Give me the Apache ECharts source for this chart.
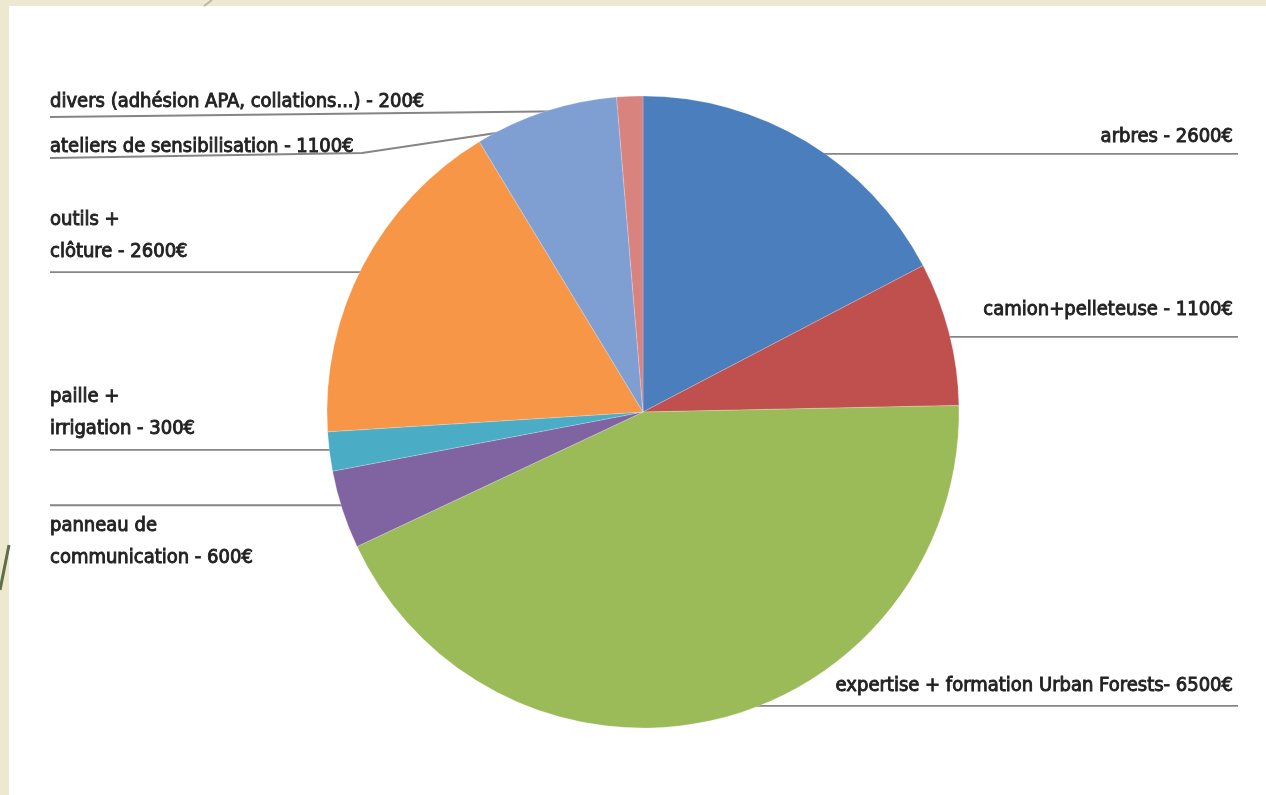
<!DOCTYPE html>
<html>
<head>
<meta charset="utf-8">
<script src="https://cdn.jsdelivr.net/npm/echarts@6/dist/echarts.min.js"></script>
<style>
html,body{margin:0;padding:0;background:#ede9d0;}
#chart{width:1266px;height:795px;}
</style>
</head>
<body>
<div id="chart"></div>
<script>
// ---- data ----
const categories = ['arbres', 'camion+pelleteuse', 'expertise + formation Urban Forests', 'panneau de\ncommunication', 'paille +\nirrigation', 'outils +\nclôture', 'ateliers de sensibilisation', 'divers (adhésion APA, collations...)'];
const separators = [' - ', ' - ', '- ', ' - ', ' - ', ' - ', ' - ', ' - '];
const values = [2600, 1100, 6500, 600, 300, 2600, 1100, 200];
const colors = ['#4a7ebd', '#c0504d', '#9bbb59', '#8064a2', '#4bacc6', '#f79646', '#7f9fd3', '#d9837f'];

// ---- layout (label placement relative to the leader line) ----
const CX = 643, CY = 412, R = 316;
const LH = 32;
// offset: distance from the leader line to the centre of the nearest text line
const placement = [
  {side: 'right', offset: 17},
  {side: 'right', offset: 27},
  {side: 'right', offset: 20},
  {side: 'left', offset: 21, below: true},
  {side: 'left', offset: 21},
  {side: 'left', offset: 20},
  {side: 'left', offset: 11, bend: [362, 153], lineY: 158},
  {side: 'left', offset: 15, lineY: 117}
];

const total = values.reduce((a, b) => a + b, 0);
function anchor(i) {
  let before = 0;
  for (let k = 0; k < i; k++) before += values[k];
  const mid = (before + values[i] / 2) / total * 2 * Math.PI;
  const r = R * 0.955;
  return [CX + r * Math.sin(mid), CY - r * Math.cos(mid)];
}

const FONT = "'Liberation Sans Narrow', 'DejaVu Sans Condensed', sans-serif";

const chart = echarts.init(document.getElementById('chart'));
chart.setOption({
  backgroundColor: '#ede9d0',
  animation: false,
  graphic: [
    {type: 'rect', z: -100, silent: true, shape: {x: 9, y: 6, width: 1257, height: 789}, style: {fill: '#ffffff'}},
    {type: 'line', z: -99, silent: true, shape: {x1: 9, y1: 545, x2: 0, y2: 590}, style: {stroke: '#5d7048', lineWidth: 3}},
    {type: 'line', z: -99, silent: true, shape: {x1: 212, y1: 0, x2: 204, y2: 6}, style: {stroke: '#bdb9a0', lineWidth: 2}}
  ],
  series: [{
    type: 'pie',
    center: [CX, CY],
    radius: R,
    startAngle: 90,
    clockwise: true,
    avoidLabelOverlap: false,
    data: categories.map((c, i) => ({name: c, value: values[i], itemStyle: {color: colors[i]}})),
    itemStyle: {borderColor: 'rgba(255,255,255,0.35)', borderWidth: 0.6},
    label: {
      show: true,
      formatter: p => categories[p.dataIndex] + separators[p.dataIndex] + values[p.dataIndex] + '€',
      fontFamily: FONT,
      fontWeight: 'normal',
      fontSize: 20,
      lineHeight: LH,
      color: '#222222',
      textBorderColor: '#222222',
      textBorderWidth: 0.9
    },
    labelLine: {show: true, lineStyle: {color: '#858585', width: 1.8}},
    labelLayout: function (params) {
      const i = params.dataIndex;
      const pl = placement[i];
      const [ax, ay] = anchor(i);
      if (pl.side === 'right') {
        return {
          x: 1233, y: ay - pl.offset + LH / 2, align: 'right', verticalAlign: 'bottom',
          labelLinePoints: [[ax, ay], [ax, ay], [1238, ay]]
        };
      }
      const ly = pl.lineY !== undefined ? pl.lineY : ay;
      const bend = pl.bend ? pl.bend : [ax, ay];
      const pts = [[ax, ay], bend, [50, ly]];
      return pl.below
        ? {x: 50, y: ly + pl.offset - LH / 2, align: 'left', verticalAlign: 'top', labelLinePoints: pts}
        : {x: 50, y: ly - pl.offset + LH / 2, align: 'left', verticalAlign: 'bottom', labelLinePoints: pts};
    }
  }]
});
</script>
</body>
</html>
